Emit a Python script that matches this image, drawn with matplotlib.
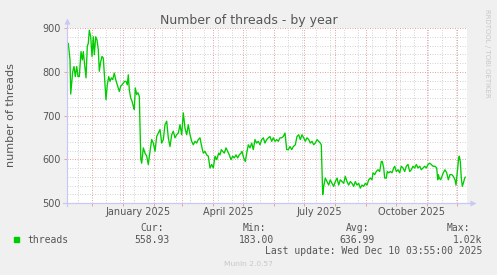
import matplotlib
matplotlib.use("Agg")
import matplotlib.pyplot as plt
import matplotlib.dates as mdates
from matplotlib.patches import Rectangle
import numpy as np
import pandas as pd

start_date = "2024-11-06"
end_date = "2025-12-11"

day_offsets = [
    0.0, 1.3, 3.0, 3.7, 5.7, 7.0, 8.3, 9.7, 11.0, 12.3, 14.0, 15.3, 16.3, 17.3,
    19.0, 20.3, 21.3, 22.3, 23.7, 25.0, 26.3, 27.3, 28.7, 30.0, 31.3, 32.3, 33.7,
    35.0, 36.3, 37.7, 39.0, 40.3, 41.7, 43.0, 44.3, 45.7, 47.3, 48.7, 50.3, 52.3,
    53.7, 55.0, 56.3, 57.7, 59.0, 60.3, 61.3, 62.3, 63.7, 65.0, 66.3, 67.3, 68.3,
    69.7, 71.0, 72.3, 73.8,
    74.7, 76.3, 78.0, 79.7, 81.3, 83.0, 84.7, 86.3, 88.0, 89.7, 91.3, 93.0, 94.7,
    96.3, 98.0, 99.7, 101.3, 103.0, 104.7, 106.3, 108.0, 109.7, 111.3, 113.0,
    114.7, 116.3, 118.0, 119.7, 121.3, 123.0, 124.7, 126.3, 128.0, 129.7, 131.3,
    133.0, 134.7, 136.3, 138.0, 139.7, 141.3, 143.0, 144.7, 146.3, 148.0, 149.7,
    151.7, 153.0, 154.3, 155.7, 157.3, 159.0, 160.7, 162.3, 164.0, 165.7, 167.3,
    169.0, 170.7, 172.3, 174.0, 175.0, 176.7, 178.3, 179.7, 181.3, 183.0, 184.7,
    186.3, 188.0, 189.7, 191.3, 193.0, 194.7, 196.3, 198.0, 199.7, 201.3, 203.0,
    204.7, 206.3, 208.0, 209.7, 211.3, 213.0, 214.7, 216.3, 218.0, 219.7, 221.3,
    223.0, 224.7, 226.3,
    228.3, 230.0, 231.7, 233.3, 235.0, 236.7, 238.3, 240.0, 241.7, 243.3, 245.0,
    246.7, 248.3, 250.0, 251.7, 253.3, 254.3, 255.7, 256.7, 258.3, 260.0, 261.7,
    263.3, 265.0, 266.7, 268.3, 270.0, 271.7, 273.3, 275.0, 276.7, 278.3, 280.0,
    281.7, 283.3, 285.0, 286.7, 288.3, 290.0, 291.7, 293.3, 295.0, 296.7, 298.3,
    300.0, 301.7, 303.3, 305.0,
    306.0, 307.7, 309.3, 311.0, 312.7, 314.3, 315.3, 316.7, 317.7, 319.3, 320.3,
    321.7, 323.3, 325.0, 326.7, 327.7, 329.3, 331.0, 332.7, 334.3, 336.0, 337.7,
    339.3, 341.0, 342.7, 344.3, 346.0, 347.7, 349.3, 351.0, 352.7, 354.3, 356.0,
    357.7, 359.3, 361.0, 362.7, 364.3, 366.0,
    368.0, 369.7, 370.7, 371.3, 372.3, 373.7, 375.0, 376.3, 378.0, 379.7, 381.3,
    383.0, 384.7, 386.3, 388.0, 389.0, 390.3, 391.7, 392.3, 393.3, 394.3, 395.3,
    396.3, 397.7, 398.3,
]

threads = [
    854, 865, 827, 749, 800, 812, 789, 812, 789, 789, 846, 827, 846, 823,
    786, 858, 865, 895, 880, 835, 880, 839, 880, 873, 850, 801, 823,
    835, 831, 782, 736, 770, 789, 778, 786, 782, 797, 782, 770, 755,
    767, 770, 774, 778, 778, 770, 793, 759, 740, 733, 721, 714, 763,
    748, 752, 744, 600,
    591, 626, 614, 607, 588, 618, 645, 637, 618, 652, 660, 668, 637,
    645, 679, 687, 649, 629, 656, 664, 649, 656, 660, 679,
    656, 706, 671, 656, 679, 656, 641, 633, 641, 637, 645,
    649, 629, 614, 618, 610, 607, 580, 588, 580, 607, 599,
    614, 610, 622, 618, 614, 626, 618, 610, 599, 607, 603,
    610, 603, 610, 614, 618, 603, 595, 614, 633, 626, 637,
    622, 645, 637, 641, 633, 645, 649, 637, 645, 649, 652,
    641, 649, 641, 645, 641, 649, 649, 652, 660, 622, 622,
    629, 622, 629,
    633, 652, 656, 645, 656, 649, 641, 649, 645, 637, 641,
    633, 637, 645, 641, 637, 633, 519, 538, 557, 549, 541,
    553, 545, 538, 549, 557, 541, 553, 549, 545, 561, 549,
    541, 549, 545, 538, 549, 541, 545, 534, 541, 538, 545,
    541, 553, 557, 553,
    569, 565, 572, 576, 572, 595, 595, 580, 557, 557, 572,
    569, 572, 569, 580, 584, 572, 576, 569, 584, 580, 572,
    584, 588, 572, 576, 584, 580, 588, 580, 584, 576, 580,
    584, 580, 588, 591, 588, 584,
    584, 580, 553, 565, 557, 553, 561, 569, 576, 569, 553,
    565, 565, 561, 553, 541, 572, 603, 607, 595, 557, 538,
    545, 557, 559,
]

x_labels = ["January 2025", "April 2025", "July 2025", "October 2025"]
x_label_months = ["2025-01-01", "2025-04-01", "2025-07-01", "2025-10-01"]

legend_headers = ["Cur:", "Min:", "Avg:", "Max:"]
legend_values = ["558.93", "183.00", "636.99", "1.02k"]

W, H = 497, 275
TEXT = "#555555"
GREEN = "#00cc00"
MGRID = "#e8a4a4"
GRID = "#d4d4d4"
AXIS = "#c8c8f4"


def fxy(x, y):
    """pixel position (from top left) to figure fraction"""
    return x / W, 1 - y / H


def create_plot(output_file):
    fig = plt.figure(figsize=(W / 100, H / 100), dpi=100, facecolor="#f0f0f0")
    ax = fig.add_axes([67 / W, 72 / H, 400 / W, 175 / H], facecolor="white")

    start = pd.Timestamp(start_date)
    dates = start + pd.to_timedelta(np.array(day_offsets), unit="D")
    ax.plot(dates, threads, color=GREEN, lw=0.95, zorder=3)

    ax.set_xlim(start, pd.Timestamp(end_date))
    ax.set_ylim(500, 900)

    # grid: red dotted at month starts / every 100, grey dotted minor
    ax.set_xticks(pd.date_range("2024-12-01", "2025-12-01", freq="MS"))
    ax.set_xticks(pd.date_range("2024-11-17", end_date, freq="14D"), minor=True)
    ax.set_yticks(np.arange(500, 901, 100))
    ax.set_yticks(np.arange(500, 901, 20), minor=True)
    dots = (0, (1, 1.5))
    ax.grid(which="minor", color=GRID, lw=0.72, linestyle=dots, zorder=1)
    ax.grid(which="major", color=MGRID, lw=0.72, linestyle=dots, zorder=2)
    ax.set_axisbelow(True)

    ax.tick_params(axis="x", which="major", length=2.2, width=0.72, color=MGRID,
                   labelbottom=False)
    ax.tick_params(axis="y", which="major", length=2.2, width=0.72, color=MGRID,
                   labelsize=7, labelcolor=TEXT, pad=2.5)
    ax.tick_params(which="minor", length=0)
    for spine in ax.spines.values():
        spine.set_visible(False)

    # axis lines with small arrows
    ax.plot([-4 / 400, 1 + 3 / 400], [0, 0], transform=ax.transAxes, color=AXIS,
            lw=0.9, clip_on=False, zorder=4)
    ax.plot([0, 0], [-3 / 175, 1 + 5 / 175], transform=ax.transAxes, color=AXIS,
            lw=0.9, clip_on=False, zorder=4)
    ax.plot([1 + 6 / 400], [0], marker=">", ms=4.5, color=AXIS, mec="none",
            transform=ax.transAxes, clip_on=False)
    ax.plot([0], [1 + 7 / 175], marker="^", ms=4.5, color=AXIS, mec="none",
            transform=ax.transAxes, clip_on=False)

    # month labels sit in the middle of their month
    for label, month in zip(x_labels, x_label_months):
        mid = pd.Timestamp(month) + pd.Timedelta(days=15)
        ax.annotate(label, xy=(mdates.date2num(mid), 0),
                    xycoords=("data", "axes fraction"), xytext=(0, -12 * 0.72),
                    textcoords="offset points", ha="center", va="baseline",
                    fontsize=7, color=TEXT)

    fig.text(*fxy(248.5, 24), "Number of threads - by year", ha="center",
             va="baseline", fontsize=9, color=TEXT)
    fig.text(*fxy(11, 115.5), "number of threads", rotation=90, ha="center",
             va="center", fontsize=8, color=TEXT)
    fig.text(*fxy(487, 53.5), "RRDTOOL / TOBI OETIKER", rotation=270,
             ha="center", va="center", fontsize=5, color="#c8c8c8")

    # legend block
    mono = dict(family="DejaVu Sans Mono", fontsize=7, color=TEXT, va="baseline")
    fig.add_artist(Rectangle(fxy(14, 242.3), 5.3 / W, 5 / H,
                             transform=fig.transFigure, color=GREEN))
    fig.text(*fxy(27, 242.7), "threads", ha="left", **mono)
    header_x = [140, 243, 346, 447]
    value_x = [134, 238.5, 339, 453]
    for hx, vx, head, val in zip(header_x, value_x, legend_headers, legend_values):
        fig.text(*fxy(hx, 230.7), head, ha="left", **mono)
        fig.text(*fxy(vx, 242.7), val, ha="left", **mono)
    fig.text(*fxy(482, 254), "Last update: Wed Dec 10 03:55:00 2025",
             ha="right", **mono)
    fig.text(*fxy(248, 266.5), "Munin 2.0.57", ha="center", va="baseline",
             fontsize=5.4, color="#c8c8c8")

    fig.savefig(output_file, dpi=100, facecolor=fig.get_facecolor())


def main():
    create_plot("out.png")


if __name__ == "__main__":
    main()
